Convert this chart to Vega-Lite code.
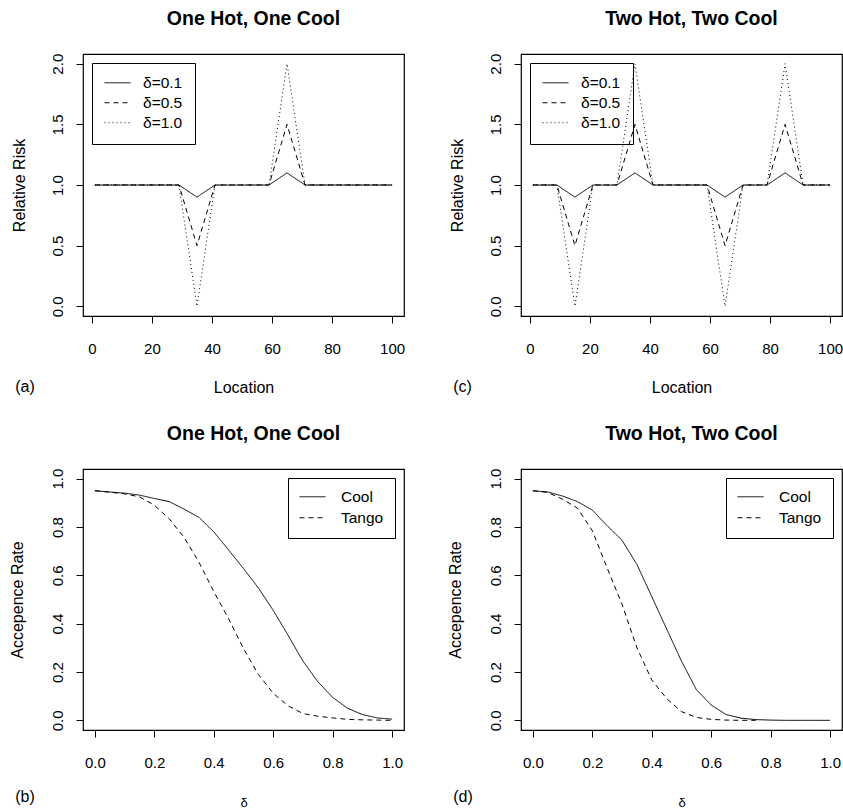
{
  "$schema": "https://vega.github.io/schema/vega-lite/v6.json",
  "autosize": {"type": "none"},
  "padding": {"left": 83, "top": 54, "right": 760, "bottom": 757},
  "background": "white",
  "config": {
    "font": "Liberation Sans",
    "view": {"stroke": "black", "strokeWidth": 1.2},
    "axis": {"domain": false, "grid": false, "tickColor": "black", "tickSize": 7, "tickWidth": 1, "labelColor": "black", "labelFontSize": 15, "labelFont": "Liberation Sans", "titleColor": "black", "titleFontSize": 16, "titleFontWeight": "normal", "titleFont": "Liberation Sans", "labelFlush": false, "labelOverlap": false, "titleAlign": "center", "titleBaseline": "alphabetic"},
    "axisX": {"labelPadding": 30, "labelBaseline": "alphabetic", "labelAngle": 0, "titleAngle": 0},
    "axisY": {"labelPadding": 14, "labelAngle": -90, "labelAlign": "center", "labelBaseline": "alphabetic", "titleAngle": -90},
    "title": {"fontSize": 19.5, "fontWeight": "bold", "color": "black", "font": "Liberation Sans", "anchor": "middle", "dx": 10, "baseline": "alphabetic", "offset": 24},
    "legend": {"orient": "none", "strokeColor": "black", "padding": 12, "labelFontSize": 15.5, "labelColor": "black", "labelFont": "Liberation Sans", "labelOffset": 12, "rowPadding": 3, "symbolSize": 676, "clipHeight": 15.5, "symbolStrokeWidth": 1, "symbolStrokeColor": "black", "symbolType": "stroke"}
  },
  "datasets": {
    "oneSpots": [
      {"loc": 1, "rr": 1, "delta": "δ=0.1"}, {"loc": 29, "rr": 1, "delta": "δ=0.1"}, {"loc": 35, "rr": 0.9, "delta": "δ=0.1"}, {"loc": 41, "rr": 1, "delta": "δ=0.1"}, {"loc": 59, "rr": 1, "delta": "δ=0.1"}, {"loc": 65, "rr": 1.1, "delta": "δ=0.1"}, {"loc": 71, "rr": 1, "delta": "δ=0.1"}, {"loc": 100, "rr": 1, "delta": "δ=0.1"},
      {"loc": 1, "rr": 1, "delta": "δ=0.5"}, {"loc": 29, "rr": 1, "delta": "δ=0.5"}, {"loc": 35, "rr": 0.5, "delta": "δ=0.5"}, {"loc": 41, "rr": 1, "delta": "δ=0.5"}, {"loc": 59, "rr": 1, "delta": "δ=0.5"}, {"loc": 65, "rr": 1.5, "delta": "δ=0.5"}, {"loc": 71, "rr": 1, "delta": "δ=0.5"}, {"loc": 100, "rr": 1, "delta": "δ=0.5"},
      {"loc": 1, "rr": 1, "delta": "δ=1.0"}, {"loc": 29, "rr": 1, "delta": "δ=1.0"}, {"loc": 35, "rr": 0, "delta": "δ=1.0"}, {"loc": 41, "rr": 1, "delta": "δ=1.0"}, {"loc": 59, "rr": 1, "delta": "δ=1.0"}, {"loc": 65, "rr": 2, "delta": "δ=1.0"}, {"loc": 71, "rr": 1, "delta": "δ=1.0"}, {"loc": 100, "rr": 1, "delta": "δ=1.0"}
    ],
    "twoSpots": [
      {"loc": 1, "rr": 1, "delta": "δ=0.1"}, {"loc": 9, "rr": 1, "delta": "δ=0.1"}, {"loc": 15, "rr": 0.9, "delta": "δ=0.1"}, {"loc": 21, "rr": 1, "delta": "δ=0.1"}, {"loc": 29, "rr": 1, "delta": "δ=0.1"}, {"loc": 35, "rr": 1.1, "delta": "δ=0.1"}, {"loc": 41, "rr": 1, "delta": "δ=0.1"}, {"loc": 59, "rr": 1, "delta": "δ=0.1"}, {"loc": 65, "rr": 0.9, "delta": "δ=0.1"}, {"loc": 71, "rr": 1, "delta": "δ=0.1"}, {"loc": 79, "rr": 1, "delta": "δ=0.1"}, {"loc": 85, "rr": 1.1, "delta": "δ=0.1"}, {"loc": 91, "rr": 1, "delta": "δ=0.1"}, {"loc": 100, "rr": 1, "delta": "δ=0.1"},
      {"loc": 1, "rr": 1, "delta": "δ=0.5"}, {"loc": 9, "rr": 1, "delta": "δ=0.5"}, {"loc": 15, "rr": 0.5, "delta": "δ=0.5"}, {"loc": 21, "rr": 1, "delta": "δ=0.5"}, {"loc": 29, "rr": 1, "delta": "δ=0.5"}, {"loc": 35, "rr": 1.5, "delta": "δ=0.5"}, {"loc": 41, "rr": 1, "delta": "δ=0.5"}, {"loc": 59, "rr": 1, "delta": "δ=0.5"}, {"loc": 65, "rr": 0.5, "delta": "δ=0.5"}, {"loc": 71, "rr": 1, "delta": "δ=0.5"}, {"loc": 79, "rr": 1, "delta": "δ=0.5"}, {"loc": 85, "rr": 1.5, "delta": "δ=0.5"}, {"loc": 91, "rr": 1, "delta": "δ=0.5"}, {"loc": 100, "rr": 1, "delta": "δ=0.5"},
      {"loc": 1, "rr": 1, "delta": "δ=1.0"}, {"loc": 9, "rr": 1, "delta": "δ=1.0"}, {"loc": 15, "rr": 0, "delta": "δ=1.0"}, {"loc": 21, "rr": 1, "delta": "δ=1.0"}, {"loc": 29, "rr": 1, "delta": "δ=1.0"}, {"loc": 35, "rr": 2, "delta": "δ=1.0"}, {"loc": 41, "rr": 1, "delta": "δ=1.0"}, {"loc": 59, "rr": 1, "delta": "δ=1.0"}, {"loc": 65, "rr": 0, "delta": "δ=1.0"}, {"loc": 71, "rr": 1, "delta": "δ=1.0"}, {"loc": 79, "rr": 1, "delta": "δ=1.0"}, {"loc": 85, "rr": 2, "delta": "δ=1.0"}, {"loc": 91, "rr": 1, "delta": "δ=1.0"}, {"loc": 100, "rr": 1, "delta": "δ=1.0"}
    ],
    "oneAcc": [
      {"d": 0.00, "rate": 0.950, "method": "Cool"}, {"d": 0.05, "rate": 0.945, "method": "Cool"}, {"d": 0.10, "rate": 0.940, "method": "Cool"}, {"d": 0.15, "rate": 0.932, "method": "Cool"}, {"d": 0.20, "rate": 0.918, "method": "Cool"}, {"d": 0.25, "rate": 0.905, "method": "Cool"}, {"d": 0.30, "rate": 0.874, "method": "Cool"}, {"d": 0.35, "rate": 0.840, "method": "Cool"}, {"d": 0.40, "rate": 0.780, "method": "Cool"}, {"d": 0.45, "rate": 0.705, "method": "Cool"}, {"d": 0.50, "rate": 0.628, "method": "Cool"}, {"d": 0.55, "rate": 0.548, "method": "Cool"}, {"d": 0.60, "rate": 0.455, "method": "Cool"}, {"d": 0.65, "rate": 0.352, "method": "Cool"}, {"d": 0.70, "rate": 0.245, "method": "Cool"}, {"d": 0.75, "rate": 0.160, "method": "Cool"}, {"d": 0.80, "rate": 0.095, "method": "Cool"}, {"d": 0.85, "rate": 0.050, "method": "Cool"}, {"d": 0.90, "rate": 0.024, "method": "Cool"}, {"d": 0.95, "rate": 0.010, "method": "Cool"}, {"d": 1.00, "rate": 0.005, "method": "Cool"},
      {"d": 0.00, "rate": 0.950, "method": "Tango"}, {"d": 0.05, "rate": 0.944, "method": "Tango"}, {"d": 0.10, "rate": 0.937, "method": "Tango"}, {"d": 0.15, "rate": 0.925, "method": "Tango"}, {"d": 0.20, "rate": 0.890, "method": "Tango"}, {"d": 0.25, "rate": 0.834, "method": "Tango"}, {"d": 0.30, "rate": 0.757, "method": "Tango"}, {"d": 0.35, "rate": 0.655, "method": "Tango"}, {"d": 0.40, "rate": 0.533, "method": "Tango"}, {"d": 0.45, "rate": 0.420, "method": "Tango"}, {"d": 0.50, "rate": 0.297, "method": "Tango"}, {"d": 0.55, "rate": 0.190, "method": "Tango"}, {"d": 0.60, "rate": 0.112, "method": "Tango"}, {"d": 0.65, "rate": 0.060, "method": "Tango"}, {"d": 0.70, "rate": 0.028, "method": "Tango"}, {"d": 0.75, "rate": 0.017, "method": "Tango"}, {"d": 0.80, "rate": 0.010, "method": "Tango"}, {"d": 0.85, "rate": 0.004, "method": "Tango"}, {"d": 0.90, "rate": 0.002, "method": "Tango"}, {"d": 0.95, "rate": 0.001, "method": "Tango"}, {"d": 1.00, "rate": 0.000, "method": "Tango"}
    ],
    "twoAcc": [
      {"d": 0.00, "rate": 0.950, "method": "Cool"}, {"d": 0.05, "rate": 0.945, "method": "Cool"}, {"d": 0.10, "rate": 0.928, "method": "Cool"}, {"d": 0.15, "rate": 0.905, "method": "Cool"}, {"d": 0.20, "rate": 0.870, "method": "Cool"}, {"d": 0.25, "rate": 0.805, "method": "Cool"}, {"d": 0.30, "rate": 0.745, "method": "Cool"}, {"d": 0.35, "rate": 0.645, "method": "Cool"}, {"d": 0.40, "rate": 0.512, "method": "Cool"}, {"d": 0.45, "rate": 0.378, "method": "Cool"}, {"d": 0.50, "rate": 0.245, "method": "Cool"}, {"d": 0.55, "rate": 0.127, "method": "Cool"}, {"d": 0.60, "rate": 0.063, "method": "Cool"}, {"d": 0.65, "rate": 0.024, "method": "Cool"}, {"d": 0.70, "rate": 0.009, "method": "Cool"}, {"d": 0.75, "rate": 0.003, "method": "Cool"}, {"d": 0.80, "rate": 0.001, "method": "Cool"}, {"d": 0.85, "rate": 0.000, "method": "Cool"}, {"d": 0.90, "rate": 0.000, "method": "Cool"}, {"d": 0.95, "rate": 0.000, "method": "Cool"}, {"d": 1.00, "rate": 0.000, "method": "Cool"},
      {"d": 0.00, "rate": 0.950, "method": "Tango"}, {"d": 0.05, "rate": 0.943, "method": "Tango"}, {"d": 0.10, "rate": 0.915, "method": "Tango"}, {"d": 0.15, "rate": 0.878, "method": "Tango"}, {"d": 0.20, "rate": 0.785, "method": "Tango"}, {"d": 0.25, "rate": 0.630, "method": "Tango"}, {"d": 0.30, "rate": 0.480, "method": "Tango"}, {"d": 0.35, "rate": 0.300, "method": "Tango"}, {"d": 0.40, "rate": 0.167, "method": "Tango"}, {"d": 0.45, "rate": 0.090, "method": "Tango"}, {"d": 0.50, "rate": 0.036, "method": "Tango"}, {"d": 0.55, "rate": 0.012, "method": "Tango"}, {"d": 0.60, "rate": 0.004, "method": "Tango"}, {"d": 0.65, "rate": 0.001, "method": "Tango"}, {"d": 0.70, "rate": 0.000, "method": "Tango"}, {"d": 0.75, "rate": 0.000, "method": "Tango"}
    ]
  },
  "bounds": "flush",
  "columns": 2,
  "spacing": {"row": 153, "column": 117},
  "resolve": {"scale": {"strokeDash": "independent", "x": "independent", "y": "independent"}, "legend": {"strokeDash": "independent"}},
  "concat": [
    {
      "width": 321, "height": 262,
      "data": {"name": "oneSpots"},
      "title": {"text": "One Hot, One Cool"},
      "encoding": {
        "y": {"field": "rr", "type": "quantitative", "scale": {"domain": [-0.08, 2.08], "nice": false, "zero": false}, "axis": {"title": "Relative Risk", "values": [0, 0.5, 1, 1.5, 2], "format": ".1f", "titleX": -59, "titleY": 131}},
        "strokeDash": {"field": "delta", "type": "nominal", "scale": {"domain": ["δ=0.1", "δ=0.5", "δ=1.0"], "range": [[1, 0], [5, 4], [1, 3]]}, "legend": {"title": null, "orient": "none", "legendX": 9, "legendY": 9}}
      },
      "layer": [
        {"transform": [{"filter": "datum.delta === 'δ=0.1'"}], "mark": {"type": "line", "color": "black", "strokeWidth": 1}, "encoding": {"x": {"field": "loc", "type": "quantitative", "scale": {"domain": [-2.96, 103.96], "nice": false, "zero": false}, "axis": {"title": "Location", "values": [0, 20, 40, 60, 80, 100], "titleX": 160.5, "titleY": 76}}}},
        {"transform": [{"filter": "datum.delta !== 'δ=0.1'"}], "mark": {"type": "line", "color": "black", "strokeWidth": 1}, "encoding": {"x": {"field": "loc", "type": "quantitative", "axis": {"orient": "top", "title": "(a)", "domain": false, "ticks": false, "labels": false, "titleX": -58.5, "titleY": 337}}}}
      ],
      "resolve": {"axis": {"x": "independent"}}
    },
    {
      "width": 321, "height": 262,
      "data": {"name": "twoSpots"},
      "title": {"text": "Two Hot, Two Cool"},
      "encoding": {
        "y": {"field": "rr", "type": "quantitative", "scale": {"domain": [-0.08, 2.08], "nice": false, "zero": false}, "axis": {"title": "Relative Risk", "values": [0, 0.5, 1, 1.5, 2], "format": ".1f", "titleX": -59, "titleY": 131}},
        "strokeDash": {"field": "delta", "type": "nominal", "scale": {"domain": ["δ=0.1", "δ=0.5", "δ=1.0"], "range": [[1, 0], [5, 4], [1, 3]]}, "legend": {"title": null, "orient": "none", "legendX": 9, "legendY": 9}}
      },
      "layer": [
        {"transform": [{"filter": "datum.delta === 'δ=0.1'"}], "mark": {"type": "line", "color": "black", "strokeWidth": 1}, "encoding": {"x": {"field": "loc", "type": "quantitative", "scale": {"domain": [-2.96, 103.96], "nice": false, "zero": false}, "axis": {"title": "Location", "values": [0, 20, 40, 60, 80, 100], "titleX": 160.5, "titleY": 76}}}},
        {"transform": [{"filter": "datum.delta !== 'δ=0.1'"}], "mark": {"type": "line", "color": "black", "strokeWidth": 1}, "encoding": {"x": {"field": "loc", "type": "quantitative", "axis": {"orient": "top", "title": "(c)", "domain": false, "ticks": false, "labels": false, "titleX": -59, "titleY": 337}}}}
      ],
      "resolve": {"axis": {"x": "independent"}}
    },
    {
      "width": 321, "height": 261,
      "data": {"name": "oneAcc"},
      "title": {"text": "One Hot, One Cool"},
      "encoding": {
        "y": {"field": "rate", "type": "quantitative", "scale": {"domain": [-0.04, 1.04], "nice": false, "zero": false}, "axis": {"title": "Accepence Rate", "values": [0, 0.2, 0.4, 0.6, 0.8, 1], "format": ".1f", "titleX": -61, "titleY": 130.5}},
        "strokeDash": {"field": "method", "type": "nominal", "scale": {"domain": ["Cool", "Tango"], "range": [[1, 0], [5, 4]]}, "legend": {"title": null, "orient": "none", "legendX": 205, "legendY": 9, "padding": 11, "rowPadding": 4, "labelOffset": 15}}
      },
      "layer": [
        {"transform": [{"filter": "datum.method === 'Cool'"}], "mark": {"type": "line", "color": "black", "strokeWidth": 1}, "encoding": {"x": {"field": "d", "type": "quantitative", "scale": {"domain": [-0.04, 1.04], "nice": false, "zero": false}, "axis": {"title": "δ", "values": [0, 0.2, 0.4, 0.6, 0.8, 1], "format": ".1f", "titleX": 160.5, "titleY": 76, "titleFontSize": 13}}}},
        {"transform": [{"filter": "datum.method === 'Tango'"}], "mark": {"type": "line", "color": "black", "strokeWidth": 1}, "encoding": {"x": {"field": "d", "type": "quantitative", "axis": {"orient": "top", "title": "(b)", "domain": false, "ticks": false, "labels": false, "titleX": -58.5, "titleY": 332.5}}}}
      ],
      "resolve": {"axis": {"x": "independent"}}
    },
    {
      "width": 321, "height": 261,
      "data": {"name": "twoAcc"},
      "title": {"text": "Two Hot, Two Cool"},
      "encoding": {
        "y": {"field": "rate", "type": "quantitative", "scale": {"domain": [-0.04, 1.04], "nice": false, "zero": false}, "axis": {"title": "Accepence Rate", "values": [0, 0.2, 0.4, 0.6, 0.8, 1], "format": ".1f", "titleX": -61, "titleY": 130.5}},
        "strokeDash": {"field": "method", "type": "nominal", "scale": {"domain": ["Cool", "Tango"], "range": [[1, 0], [5, 4]]}, "legend": {"title": null, "orient": "none", "legendX": 205, "legendY": 9, "padding": 11, "rowPadding": 4, "labelOffset": 15}}
      },
      "layer": [
        {"transform": [{"filter": "datum.method === 'Cool'"}], "mark": {"type": "line", "color": "black", "strokeWidth": 1}, "encoding": {"x": {"field": "d", "type": "quantitative", "scale": {"domain": [-0.04, 1.04], "nice": false, "zero": false}, "axis": {"title": "δ", "values": [0, 0.2, 0.4, 0.6, 0.8, 1], "format": ".1f", "titleX": 160.5, "titleY": 76, "titleFontSize": 13}}}},
        {"transform": [{"filter": "datum.method === 'Tango'"}], "mark": {"type": "line", "color": "black", "strokeWidth": 1}, "encoding": {"x": {"field": "d", "type": "quantitative", "axis": {"orient": "top", "title": "(d)", "domain": false, "ticks": false, "labels": false, "titleX": -58.5, "titleY": 332.5}}}}
      ],
      "resolve": {"axis": {"x": "independent"}}
    }
  ]
}
